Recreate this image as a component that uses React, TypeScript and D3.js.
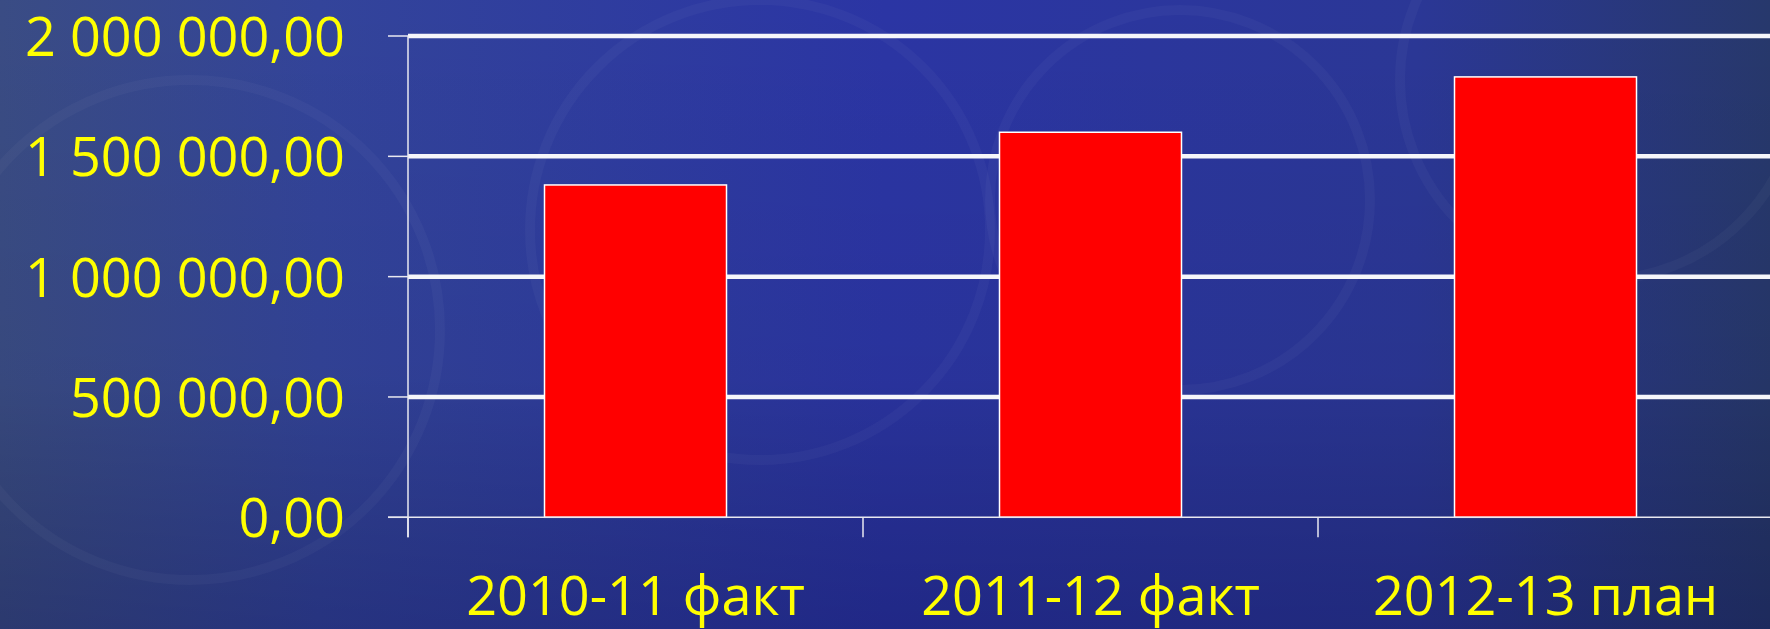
import * as d3 from "d3";

// ---- Data ----
const categories = ["2010-11 факт", "2011-12 факт", "2012-13 план"];
const values = [1381000, 1600000, 1830000];
const yTicks = [0, 500000, 1000000, 1500000, 2000000];

const W = 1770;
const H = 629;
const plotLeft = 408;
const step = 455;
const yBottom = 517.3;
const yTop = 36;

const fmt = (v: number) =>
	d3.format(",.2f")(v).replace(/,/g, " ").replace(".", ",");

export default function App() {
	const x = d3
		.scaleBand<string>()
		.domain(categories)
		.range([plotLeft, plotLeft + step * categories.length])
		.paddingInner(0.6)
		.paddingOuter(0.3);

	const y = d3.scaleLinear().domain([0, 2000000]).range([yBottom, yTop]);

	// category boundaries for the x-axis tick marks
	const bounds = d3.range(categories.length).map((i) => plotLeft + i * x.step());
	const font = "'Open Sans', 'Noto Sans', sans-serif";

	return (
		<svg
			width={W}
			height={H}
			style={{ position: "fixed", left: 0, top: 0, display: "block" }}
		>
			<defs>
				<linearGradient id="bgH" x1="0" x2="1" y1="0" y2="0">
					<stop offset="0" stopColor="#3a4c84" />
					<stop offset="0.18" stopColor="#33449a" />
					<stop offset="0.5" stopColor="#2b35a4" />
					<stop offset="0.8" stopColor="#2b3796" />
					<stop offset="1" stopColor="#27386c" />
				</linearGradient>
				<linearGradient id="bgV" x1="0" x2="0" y1="0" y2="1">
					<stop offset="0" stopColor="#000" stopOpacity="0" />
					<stop offset="0.6" stopColor="#000" stopOpacity="0.05" />
					<stop offset="1" stopColor="#000030" stopOpacity="0.25" />
				</linearGradient>
			</defs>

			{/* ---- Background ---- */}
			<rect width={W} height={H} fill="url(#bgH)" />
			<rect width={W} height={H} fill="url(#bgV)" />
			<g fill="none" stroke="#ffffff" strokeOpacity="0.03" strokeWidth="10">
				<circle cx={190} cy={330} r={250} />
				<circle cx={760} cy={230} r={230} />
				<circle cx={1180} cy={200} r={190} />
				<circle cx={1600} cy={80} r={200} />
			</g>

			{/* ---- Gridlines ---- */}
			{yTicks
				.filter((t) => t > 0)
				.map((t) => (
					<line
						key={t}
						x1={plotLeft}
						x2={W}
						y1={y(t)}
						y2={y(t)}
						stroke="#f6f6fa"
						strokeWidth={4.5}
					/>
				))}

			{/* ---- Y axis ---- */}
			<line x1={plotLeft} x2={plotLeft} y1={yTop} y2={yBottom + 20} stroke="#e8e8f0" strokeWidth={1.5} />
			{yTicks.map((t) => (
				<g key={t}>
					<line x1={plotLeft - 20} x2={plotLeft} y1={y(t)} y2={y(t)} stroke="#e8e8f0" strokeWidth={1.5} />
					<text
						x={345}
						y={y(t)}
						dy="0.37em"
						textAnchor="end"
						fill="#ffff00"
						fontFamily={font}
						fontSize={54}
					>
						{fmt(t)}
					</text>
				</g>
			))}

			{/* ---- Bars ---- */}
			{categories.map((c, i) => (
				<rect
					key={c}
					x={x(c)}
					y={y(values[i])}
					width={x.bandwidth()}
					height={yBottom - y(values[i])}
					fill="#ff0000"
					stroke="#ffffff"
					strokeWidth={1.5}
				/>
			))}

			{/* ---- X axis ---- */}
			<line x1={plotLeft - 20} x2={W} y1={yBottom} y2={yBottom} stroke="#e8e8f0" strokeWidth={1.5} />
			{bounds.map((b, i) => (
				<line key={i} x1={b} x2={b} y1={yBottom} y2={yBottom + 20} stroke="#e8e8f0" strokeWidth={1.5} />
			))}
			{categories.map((c) => (
				<text
					key={c}
					x={x(c)! + x.bandwidth() / 2}
					y={615}
					textAnchor="middle"
					fill="#ffff00"
					fontFamily={font}
					fontSize={54}
				>
					{c}
				</text>
			))}
		</svg>
	);
}
